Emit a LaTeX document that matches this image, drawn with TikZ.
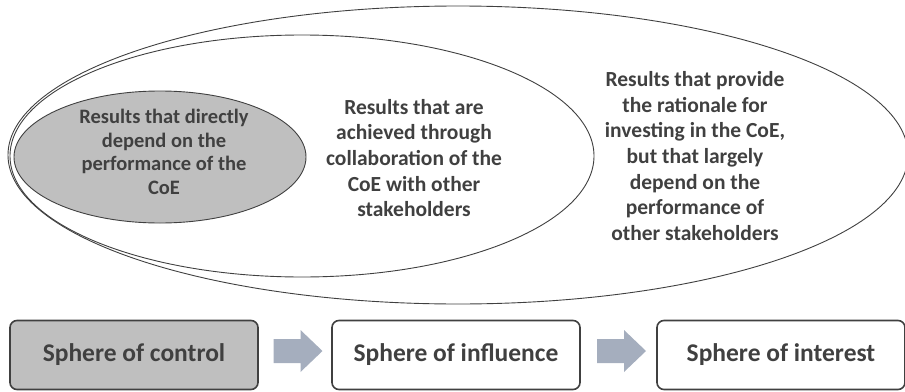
\documentclass[tikz,border=0pt]{standalone}
\usepackage{fontspec}
\setmainfont{Carlito}
\definecolor{ink}{HTML}{404040}
\definecolor{fillgray}{HTML}{BFBFBF}
\definecolor{arrowgray}{HTML}{A5AEBE}
\begin{document}
\begin{tikzpicture}[x=1pt,y=-1pt,
  ring/.style={draw=ink,line width=0.9pt},
  label/.style={text=ink,font=\bfseries,align=center,inner sep=0pt},
  spherebox/.style={draw=ink,line width=1.6pt,rounded corners=7pt,
    minimum width=248pt,minimum height=69pt,text=ink,
    font=\fontsize{25.5}{30}\selectfont\bfseries,inner sep=0pt},
  flow/.style={fill=arrowgray,draw=none}
]
\useasboundingbox (0,0) rectangle (905,391);

% nested spheres
\draw[ring] (458,155) ellipse [x radius=450, y radius=149];
\draw[ring] (302,156) ellipse [x radius=292, y radius=121];
\draw[ring,fill=fillgray] (160,157) ellipse [x radius=146, y radius=66];

% descriptions inside the spheres
\node[label,font=\fontsize{20.5}{23.5}\selectfont\bfseries] (ctrltext) at (164,152)
  {Results that directly\\depend on the\\performance of the\\CoE};
\node[label,font=\fontsize{21.5}{25.6}\selectfont\bfseries] (inftext) at (414,158)
  {Results that are\\achieved through\\collaboration of the\\CoE with other\\stakeholders};
\node[label,font=\fontsize{21.5}{25.6}\selectfont\bfseries] (inttext) at (695,156)
  {Results that provide\\the rationale for\\investing in the CoE,\\but that largely\\depend on the\\performance of\\other stakeholders};

% sphere labels along the bottom
\node[spherebox,fill=fillgray] (control) at (134,355) {Sphere of control};
\node[spherebox,fill=white] (influence) at (456,355) {Sphere of influence};
\node[spherebox,fill=white] (interest) at (781,355) {Sphere of interest};

% block arrows centred in the gaps between the labels
\path (control.east) -- (influence.west) coordinate[pos=0.5] (m1);
\path (influence.east) -- (interest.west) coordinate[pos=0.5] (m2);
\coordinate (a1) at ([xshift=3pt,yshift=4pt]m1);
\coordinate (a2) at ([xshift=3pt,yshift=4pt]m2);
\foreach \c in {a1,a2}{
  \fill[flow] ([shift={(-24.5,-12)}]\c) -- ([shift={(2.5,-12)}]\c)
    -- ([shift={(2.5,-21)}]\c) -- ([shift={(24.5,0)}]\c)
    -- ([shift={(2.5,21)}]\c) -- ([shift={(2.5,12)}]\c)
    -- ([shift={(-24.5,12)}]\c) -- cycle;
}
\end{tikzpicture}
\end{document}
